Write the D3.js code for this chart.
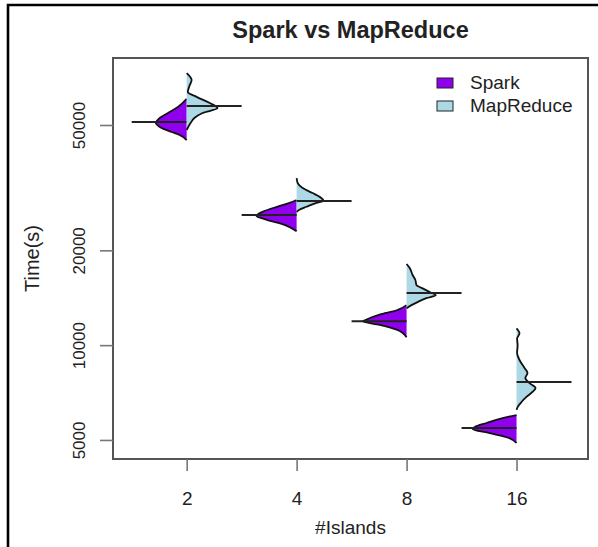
<!DOCTYPE html>
<html>
<head>
<meta charset="utf-8">
<script src="https://cdn.jsdelivr.net/npm/d3@7"></script>
<style>
  body { margin: 0; background: #fff; }
  text { font-family: "Liberation Sans", Arial, sans-serif; fill: #222; }
</style>
</head>
<body>
<svg id="chart" width="598" height="547"></svg>
<script>
// groups and series
const islands = ["2", "4", "8", "16"];
const seriesNames = ["Spark", "MapReduce"];
const seriesColors = ["#9000ee", "#add8e6"];
const yTicks = [5000, 10000, 20000, 50000];

// bean averages (seconds)
const sparkMeans = [51100, 25900, 11900, 5460];
const mapredMeans = [57400, 28700, 14650, 7640];

// density outlines: [time, half width in group units]
const sparkDensity = [
  [[60500, 0], [57000, 0.08], [54600, 0.17], [52600, 0.245], [50700, 0.28], [49300, 0.245], [47500, 0.135], [46500, 0.065], [44800, 0]],
  [[28900, 0], [28300, 0.065], [27500, 0.18], [26500, 0.31], [25700, 0.365], [25000, 0.27], [24100, 0.11], [23000, 0]],
  [[13400, 0], [12900, 0.09], [12500, 0.245], [12000, 0.38], [11900, 0.4], [11600, 0.245], [11200, 0.09], [10600, 0]],
  [[6000, 0], [5870, 0.127], [5660, 0.273], [5500, 0.38], [5420, 0.4], [5260, 0.245], [5070, 0.065], [4890, 0]]
];
const mapredDensity = [
  [[73100, 0], [69500, 0.045], [66500, 0.025], [63600, 0.01], [61400, 0.09], [58700, 0.21], [56600, 0.28], [54600, 0.145], [52600, 0.07], [50700, 0.035], [48200, 0]],
  [[33900, 0], [32700, 0.01], [31550, 0.055], [30400, 0.145], [29300, 0.225], [28700, 0.245], [28300, 0.18], [27500, 0.09], [26900, 0.025], [26500, 0]],
  [[18100, 0], [17600, 0.027], [16700, 0.055], [16100, 0.08], [15500, 0.09], [15200, 0.135], [14750, 0.21], [14400, 0.265], [14100, 0.18], [13700, 0.1], [13400, 0.045], [13100, 0]],
  [[11300, 0], [10900, 0.027], [10500, 0.005], [10000, 0.01], [9450, 0.005], [8970, 0.027], [8460, 0.073], [8160, 0.1], [7870, 0.08], [7580, 0.118], [7310, 0.173], [7100, 0.145], [6850, 0.09], [6600, 0.045], [6360, 0.01], [6230, 0]]
];

const svg = d3.select("#chart");

// plot region
const plot = {left: 113, right: 588, top: 58, bottom: 459};

const x = d3.scaleLinear().domain([0.33, 4.65]).range([plot.left, plot.right]);
const y = d3.scaleLog().domain([4350, 81600]).range([plot.bottom, plot.top]);

// outer frame (top and left edges of the screenshot)
svg.append("path")
  .attr("d", "M8,547 V5 H598")
  .attr("fill", "none")
  .attr("stroke", "#000")
  .attr("stroke-width", 2.6);

// beans: spark on the left half, mapreduce on the right
const beans = svg.append("g");
const sides = [
  {dens: sparkDensity, means: sparkMeans, dir: -1, color: seriesColors[0]},
  {dens: mapredDensity, means: mapredMeans, dir: 1, color: seriesColors[1]}
];

sides.forEach(s => {
  s.dens.forEach((pts, i) => {
    const c = i + 1;
    const area = d3.area()
      .curve(d3.curveMonotoneY)
      .y(d => y(d[0]))
      .x0(x(c))
      .x1(d => x(c + s.dir * d[1]));
    const outline = d3.line()
      .curve(d3.curveMonotoneY)
      .y(d => y(d[0]))
      .x(d => x(c + s.dir * d[1]));
    beans.append("path")
      .attr("d", area(pts))
      .attr("fill", s.color)
      .attr("stroke", "none");
    beans.append("path")
      .attr("d", outline(pts))
      .attr("fill", "none")
      .attr("stroke", "#111")
      .attr("stroke-width", 1.8);
    // bean line (average)
    beans.append("line")
      .attr("x1", x(c))
      .attr("x2", x(c + s.dir * 0.5))
      .attr("y1", y(s.means[i]))
      .attr("y2", y(s.means[i]))
      .attr("stroke", "#222")
      .attr("stroke-width", 2);
  });
});

// box
svg.append("rect")
  .attr("x", plot.left)
  .attr("y", plot.top)
  .attr("width", plot.right - plot.left)
  .attr("height", plot.bottom - plot.top)
  .attr("fill", "none")
  .attr("stroke", "#555")
  .attr("stroke-width", 2);

// y axis
const yAxis = svg.append("g")
  .attr("transform", `translate(${plot.left},0)`)
  .call(d3.axisLeft(y).tickValues(yTicks).tickSize(13).tickFormat(d3.format("d")));
yAxis.select(".domain").remove();
yAxis.selectAll(".tick line").attr("stroke", "#777").attr("stroke-width", 1.6);
yAxis.selectAll(".tick text")
  .attr("x", null).attr("dy", null)
  .attr("text-anchor", "middle")
  .attr("transform", "translate(-28,0) rotate(-90)")
  .style("font-size", "17px")
  .style("font-family", "'Liberation Sans', Arial, sans-serif")
  .attr("fill", "#222");

// x axis
const xAxis = svg.append("g")
  .attr("transform", `translate(0,${plot.bottom})`)
  .call(d3.axisBottom(x).tickValues([1, 2, 3, 4]).tickSize(12).tickFormat((d, i) => islands[i]));
xAxis.select(".domain").remove();
xAxis.selectAll(".tick line").attr("stroke", "#777").attr("stroke-width", 1.6);
xAxis.selectAll(".tick text")
  .attr("y", 46).attr("dy", null)
  .style("font-size", "19px")
  .style("font-family", "'Liberation Sans', Arial, sans-serif")
  .attr("fill", "#222");

// titles
svg.append("text")
  .attr("x", (plot.left + plot.right) / 2)
  .attr("y", 38)
  .attr("text-anchor", "middle")
  .style("font-size", "23.5px")
  .style("font-weight", "bold")
  .text("Spark vs MapReduce");

svg.append("text")
  .attr("x", (plot.left + plot.right) / 2)
  .attr("y", 534)
  .attr("text-anchor", "middle")
  .style("font-size", "19px")
  .text("#Islands");

svg.append("text")
  .attr("transform", `translate(39,${(plot.top + plot.bottom) / 2}) rotate(-90)`)
  .attr("text-anchor", "middle")
  .style("font-size", "20px")
  .text("Time(s)");

// legend
const legend = svg.append("g");
seriesNames.forEach((name, i) => {
  const row = legend.append("g").attr("transform", `translate(437,${78 + i * 23})`);
  row.append("rect")
    .attr("width", 16).attr("height", 10)
    .attr("fill", seriesColors[i])
    .attr("stroke", "#222")
    .attr("stroke-width", 1);
  row.append("text")
    .attr("x", 33).attr("y", 11)
    .style("font-size", "19px")
    .text(name);
});
</script>
</body>
</html>
